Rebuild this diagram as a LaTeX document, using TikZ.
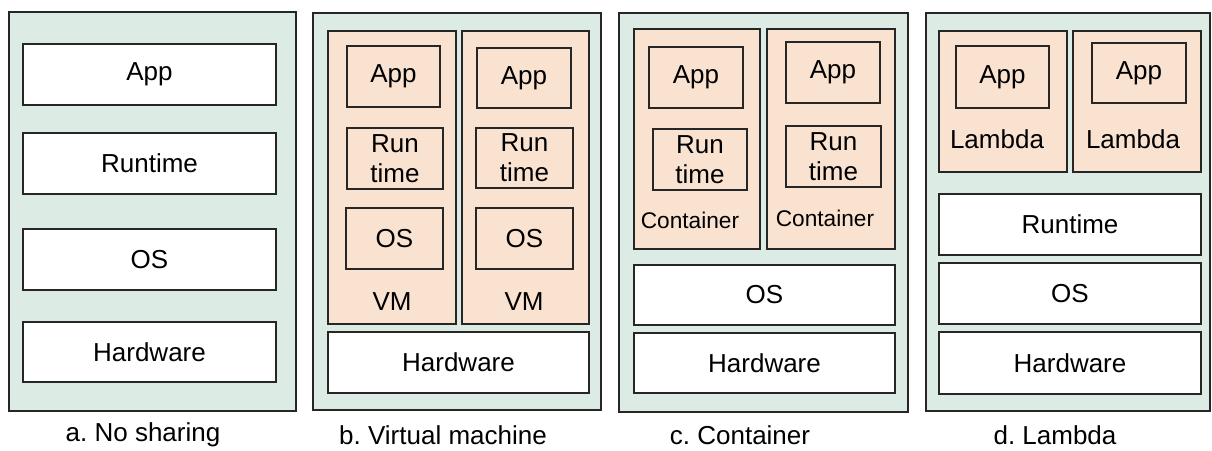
\documentclass[tikz,border=0pt]{standalone}
\usepackage{fontspec}
\setmainfont{Liberation Sans}
\frenchspacing
\definecolor{mint}{RGB}{221,235,229}
\definecolor{peach}{RGB}{250,226,208}
\tikzset{
  panel/.style={draw=black!85, line width=1.6pt, fill=mint},
  layer/.style={draw=black!85, line width=1.5pt, fill=white, font=\fontsize{19.5}{22}\selectfont},
  unit/.style={draw=black!85, line width=1.5pt, fill=peach},
  inner/.style={draw=black!85, line width=1.5pt, fill=peach, align=center, font=\fontsize{19.5}{22.5}\selectfont},
  lbl/.style={font=\fontsize{19.5}{22}\selectfont},
  small/.style={font=\fontsize{17}{20}\selectfont},
  captxt/.style={font=\fontsize{19.5}{22}\selectfont, inner sep=1pt},
}
\newcommand\pbox[7]{\node[#2, inner sep=0pt, outer sep=0pt, minimum width={(#5-#3)*0.75pt}, minimum height={(#6-#4)*0.75pt}] (#1) at ({(#3+#5)/2},{(#4+#6)/2}) {#7};}
\begin{document}
\begin{tikzpicture}[x=0.75pt, y=-0.75pt]
\useasboundingbox (0,0) rectangle (1212,450);
% panel a
\pbox{pa}{panel}{9}{12}{296}{411}{}
\pbox{aApp}{layer}{23}{44}{276}{105}{App}
\pbox{aRt}{layer}{23}{133}{276}{194}{Runtime}
\pbox{aOS}{layer}{23}{229}{276}{290}{OS}
\pbox{aHw}{layer}{23}{322}{276}{382}{Hardware}
\node[captxt] (capa) at (143,435) {a. No sharing};
% panel b
\pbox{pb}{panel}{313}{13}{601}{410}{}
\pbox{vm1}{unit}{328}{31}{456}{324}{}
\pbox{vm2}{unit}{462}{31}{589}{324}{}
\pbox{bApp1}{inner}{347}{46}{440}{107}{App}
\pbox{bRt1}{inner}{347}{128}{443}{189}{Run\\time}
\pbox{bOS1}{inner}{346}{208}{443}{269}{OS}
\node[lbl] (bVM1) at (392,302) {VM};
\pbox{bApp2}{inner}{477}{48}{571}{108}{App}
\pbox{bRt2}{inner}{476}{128}{573}{188}{Run\\time}
\pbox{bOS2}{inner}{476}{208}{573}{269}{OS}
\node[lbl] (bVM2) at (524,302) {VM};
\pbox{bHw}{layer}{328}{332}{589}{393}{Hardware}
\node[captxt] (capb) at (443,435) {b. Virtual machine};
% panel c
\pbox{pc}{panel}{619}{13}{908}{412}{}
\pbox{c1}{unit}{634}{29}{760}{249}{}
\pbox{c2}{unit}{767}{29}{895}{249}{}
\pbox{cApp1}{inner}{649}{47}{743}{108}{App}
\pbox{cRt1}{inner}{653}{129}{747}{190}{Run\\time}
\node[small] (cC1) at (690,220) {Container};
\pbox{cApp2}{inner}{786}{42}{880}{103}{App}
\pbox{cRt2}{inner}{786}{126}{881}{187}{Run\\time}
\node[small] (cC2) at (825,218) {Container};
\pbox{cOS}{layer}{634}{265}{895}{325}{OS}
\pbox{cHw}{layer}{634}{333}{895}{393}{Hardware}
\node[captxt] (capc) at (740,435) {c. Container};
% panel d
\pbox{pd}{panel}{926}{13}{1210}{411}{}
\pbox{l1}{unit}{939}{31}{1067}{172}{}
\pbox{l2}{unit}{1073}{31}{1201}{172}{}
\pbox{dApp1}{inner}{956}{46}{1049}{108}{App}
\node[lbl] (dL1) at (997,139) {Lambda};
\pbox{dApp2}{inner}{1092}{43}{1186}{103}{App}
\node[lbl] (dL2) at (1133,139) {Lambda};
\pbox{dRt}{layer}{939}{194}{1201}{255}{Runtime}
\pbox{dOS}{layer}{939}{263}{1201}{324}{OS}
\pbox{dHw}{layer}{939}{332}{1201}{394}{Hardware}
\node[captxt] (capd) at (1055,435) {d. Lambda};
\end{tikzpicture}
\end{document}
